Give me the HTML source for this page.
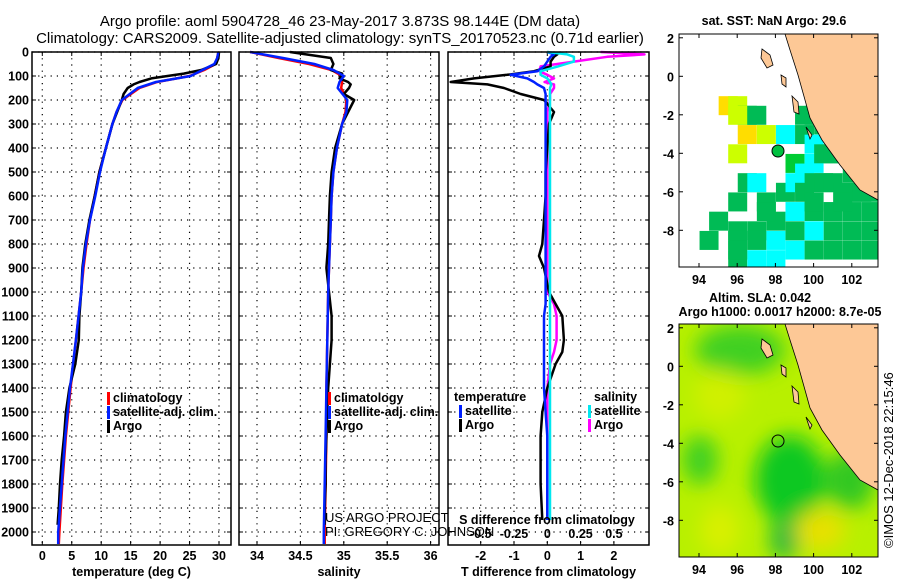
<!DOCTYPE html>
<html><head><meta charset="utf-8"><style>
body{margin:0;background:#fff}
svg{display:block;font-family:"Liberation Sans",sans-serif}
.t{font-weight:bold;font-size:12.5px}
</style></head><body>
<svg id="fig" width="900" height="580" viewBox="0 0 900 580">
<rect width="900" height="580" fill="#fff"/>
<text x="340" y="26" text-anchor="middle" font-size="15">Argo profile: aoml 5904728_46 23-May-2017 3.873S 98.144E (DM data)</text>
<text x="340" y="43" text-anchor="middle" font-size="15">Climatology: CARS2009. Satellite-adjusted climatology: synTS_20170523.nc (0.71d earlier)</text>
<g id="plots"></g>
<defs>
<clipPath id="c1"><rect x="679" y="34" width="199" height="233"/></clipPath>
<clipPath id="c2"><rect x="679" y="324" width="199" height="233"/></clipPath>
<filter id="blur"><feGaussianBlur stdDeviation="10"/></filter>
</defs>
<g>
<text x="774" y="25" text-anchor="middle" class="t">sat. SST: NaN Argo: 29.6</text>
<g clip-path="url(#c1)" id="sstcells"></g>
<g clip-path="url(#c1)"><path d="M785,34 L878,34 L878,200 L860,190 L840,165 L822,140 L810,118 L805,100 L798,75 L790,50 Z" fill="#fdc896" stroke="#000" stroke-width="0.8"/>
<path d="M762,49 l8,6 l3,10 l-6,3 l-6,-10 z M781,75 l5,3 l0,9 l-4,-3 z M792,96 l6,6 l1,12 l-5,-2 z M806,127 l6,8 l-2,4 z" fill="#fdc896" stroke="#000" stroke-width="0.8"/>
<circle cx="778" cy="151" r="6" fill="#00c040" stroke="#000"/></g>
<rect x="679" y="34" width="199" height="233" fill="none" stroke="#000"/>
</g>
<g>
<text x="760" y="302" text-anchor="middle" class="t">Altim. SLA: 0.042</text>
<text x="780" y="316" text-anchor="middle" class="t">Argo h1000: 0.0017 h2000: 8.7e-05</text>
<g clip-path="url(#c2)">
<rect x="679" y="324" width="199" height="233" fill="#b8f000"/>
<g filter="url(#blur)">
<ellipse cx="740" cy="350" rx="45" ry="25" fill="#40d020"/>
<ellipse cx="790" cy="480" rx="35" ry="45" fill="#10c820"/>
<ellipse cx="700" cy="460" rx="18" ry="25" fill="#40d020"/>
<ellipse cx="850" cy="480" rx="25" ry="30" fill="#30c820"/>
<ellipse cx="785" cy="540" rx="15" ry="20" fill="#20b840"/>
<ellipse cx="720" cy="395" rx="25" ry="25" fill="#d0f000"/>
<ellipse cx="820" cy="530" rx="25" ry="20" fill="#e8e000"/>
<ellipse cx="720" cy="530" rx="20" ry="25" fill="#d8f000"/>
</g>
<path d="M785,324 L878,324 L878,490 L860,480 L840,455 L822,430 L810,408 L805,390 L798,365 L790,340 Z" fill="#fdc896" stroke="#000" stroke-width="0.8"/>
<path d="M762,339 l8,6 l3,10 l-6,3 l-6,-10 z M781,365 l5,3 l0,9 l-4,-3 z M792,386 l6,6 l1,12 l-5,-2 z M806,417 l6,8 l-2,4 z" fill="#fdc896" stroke="#000" stroke-width="0.8"/>
<circle cx="778" cy="441" r="6" fill="none" stroke="#000"/></g>
<rect x="679" y="324" width="199" height="233" fill="none" stroke="#000"/>
<text transform="translate(893,548) rotate(-90)" font-size="13">©IMOS 12-Dec-2018 22:15:46</text>
</g>
<g id="mapaxes"></g>
</svg>
<script>
const depthClim=[0,25,50,75,100,125,150,200,250,300,400,500,600,700,800,900,1000,1200,1400,1600,1800,2000,2050];
const tempClim=[29.9,29.7,29.4,27.5,25.0,19.5,16.5,13.6,12.6,11.9,10.8,9.7,8.9,8.1,7.5,7.0,6.6,5.7,4.8,4.0,3.4,2.9,2.8];
const tempSat=[29.9,29.7,29.2,27.2,25.2,19.3,16.2,13.5,12.6,11.9,10.8,9.8,9.0,8.1,7.4,6.9,6.6,5.7,4.7,3.9,3.3,2.7,2.7];
const depthArgo=[0,25,50,75,90,110,125,135,150,175,200,250,300,400,500,600,700,800,900,1000,1100,1200,1300,1400,1500,1600,1700,1800,1900,1970];
const tempArgo=[30.0,29.9,29.5,27.0,24.0,18.5,16.5,15.5,14.5,13.8,13.5,12.7,11.9,10.8,9.7,8.9,8.0,7.3,6.8,6.6,6.3,6.2,5.6,4.6,4.0,3.7,3.3,3.0,2.8,2.6];
const salClim=[33.92,34.25,34.6,34.86,34.98,34.98,34.97,35.03,35.02,34.98,34.92,34.88,34.86,34.85,34.84,34.83,34.82,34.81,34.8,34.8,34.79,34.78,34.78];
const salSat=[33.92,34.3,34.66,34.88,35.0,34.95,34.93,35.04,35.03,34.98,34.92,34.88,34.86,34.85,34.84,34.83,34.82,34.81,34.8,34.79,34.78,34.77,34.77];
const salArgo=[34.38,34.85,34.88,34.85,34.98,34.95,35.05,35.08,35.06,35.0,35.12,35.05,34.98,34.9,34.86,34.84,34.83,34.82,34.8,34.83,34.86,34.86,34.84,34.82,34.81,34.8,34.79,34.79,34.78,34.78];
const depthDiff=[0,10,20,40,60,80,95,110,125,135,150,175,200,250,300,400,500,600,700,800,850,900,1000,1050,1100,1200,1250,1300,1400,1500,1600,1800,1950];
const dTArgo=[0.0,0.3,0.2,0.1,0.1,-0.4,-1.2,-2.2,-2.9,-1.8,-1.3,-0.8,-0.1,0.2,0.05,0.0,-0.05,-0.05,-0.1,-0.15,-0.25,-0.1,0.05,0.25,0.45,0.5,0.45,0.25,0.0,-0.15,-0.2,-0.2,-0.15];
const dTSat=[0.0,0.2,0.1,0.0,-0.1,-0.3,-1.1,-0.6,-0.4,-0.3,-0.1,-0.05,-0.05,-0.05,-0.05,-0.05,-0.05,-0.05,-0.05,-0.05,-0.05,-0.05,-0.05,-0.05,-0.1,-0.1,-0.1,-0.1,-0.1,-0.05,0.0,0.0,0.0];
const dSArgo=[0.4,0.73,0.45,0.2,-0.05,-0.06,0.0,0.05,-0.02,0.05,0.05,0.02,0.02,0.0,0.0,0.0,0.0,0.0,0.0,0.0,0.0,0.0,0.0,0.05,0.07,0.07,0.05,0.02,0.0,0.0,0.0,0.0,0.0];
const dSSat=[0.0,0.15,0.2,0.2,0.08,-0.05,-0.05,0.0,0.02,0.03,0.02,0.02,0.02,0.02,0.02,0.02,0.02,0.02,0.02,0.02,0.02,0.02,0.02,0.02,0.02,0.02,0.02,0.02,0.02,0.02,0.02,0.02,0.02];
const depthTicks=[0,100,200,300,400,500,600,700,800,900,1000,1100,1200,1300,1400,1500,1600,1700,1800,1900,2000];
const tempTicks=[0,5,10,15,20,25,30];
const salTicks=[34,34.5,35,35.5,36];
const salTickLabels=["34","34.5","35","35.5","36"];
const dTTicks=[-2,-1,0,1,2];
const dSTicks=[-0.5,-0.25,0,0.25,0.5];
const dSTickLabels=["-0.5","-0.25","0","0.25","0.5"];
const lonTicks=[94,96,98,100,102];
const latTicks=[2,0,-2,-4,-6,-8];

const NS="http://www.w3.org/2000/svg";
const top0=52,bot=545;
const yD=d=>top0+d*0.24;
function mk(tag,at,par){const e=document.createElementNS(NS,tag);for(const k in at)e.setAttribute(k,at[k]);par.appendChild(e);return e;}
const G=document.getElementById('plots');
function txt(x,y,s,anchor,par,cls){const t=mk('text',{x:x,y:y,'text-anchor':anchor||'middle',class:cls||'t'},par);t.textContent=s;return t;}

function panel(name,x0,x1,xs,ticks,labels,title,showY){
  const g=mk('g',{},G);
  
  
  depthTicks.forEach(d=>{const y=yD(d);
    const l=mk('line',{x1:x0,x2:x1,y1:y,y2:y,stroke:'#000','stroke-dasharray':'1.2,5','stroke-width':1.2},g);
    
    
    mk('line',{x1:x0,x2:x0+4,y1:y,y2:y,stroke:'#000'},g);mk('line',{x1:x1-4,x2:x1,y1:y,y2:y,stroke:'#000'},g);
    if(showY){const t=txt(29,y+4.5,String(d),'end',g);
      
      }
  });
  ticks.forEach((v,i)=>{const x=xs(v);
    const l=mk('line',{x1:x,x2:x,y1:top0,y2:bot,stroke:'#000','stroke-dasharray':'1.2,5','stroke-width':1.2},g);
    
    
    mk('line',{x1:x,x2:x,y1:bot,y2:bot-4,stroke:'#000'},g);mk('line',{x1:x,x2:x,y1:top0,y2:top0+4,stroke:'#000'},g);
    const t=txt(x,560,labels[i],'middle',g);
    
    
  });
  const tt=txt((x0+x1)/2,576,title,'middle',g);
  
  
  return g;
}
function line(g,xs,vals,deps,col,w,name){
  const p=mk('polyline',{points:vals.map((v,i)=>xs(v).toFixed(1)+','+yD(deps[i]).toFixed(1)).join(' '),fill:'none',stroke:col,'stroke-width':w,'stroke-linejoin':'round'},g);
  
  
}
function frame(g,x0,x1){const r=mk('rect',{x:x0,y:top0,width:x1-x0,height:bot-top0,fill:'none',stroke:'#000','stroke-width':1.5},g);
  
  }
function legend(g,x,y,items){items.forEach((it,i)=>{
  const yy=y+i*14;
  const r=mk('rect',{x:x,y:yy-10,width:3,height:13,fill:it[1]},g);
  
  
  const t=txt(x+6,yy,it[0],'start',g);
  
  });}

const xT=v=>42.3+v*5.89;
let g1=panel('temperature-panel',32,231,xT,tempTicks,tempTicks.map(String),'temperature (deg C)',true);
line(g1,xT,tempClim,depthClim,'#f00',2.5,'temp-climatology-line');
line(g1,xT,tempArgo,depthArgo,'#000',2.5,'temp-argo-line');
line(g1,xT,tempSat,depthClim,'#0020ff',2.5,'temp-satellite-line');
frame(g1,32,231);
legend(g1,107,402,[['climatology','#f00'],['satellite-adj. clim.','#0020ff'],['Argo','#000']]);

const xS=v=>257+(v-34)*86.8;
let g2=panel('salinity-panel',239,439,xS,salTicks,salTickLabels,'salinity',false);
line(g2,xS,salClim,depthClim,'#f00',2.5,'sal-climatology-line');
line(g2,xS,salArgo,depthArgo,'#000',2.5,'sal-argo-line');
line(g2,xS,salSat,depthClim,'#0020ff',2.5,'sal-satellite-line');
frame(g2,239,439);
legend(g2,328,402,[['climatology','#f00'],['satellite-adj. clim.','#0020ff'],['Argo','#000']]);
let c1=txt(325,522,'US ARGO PROJECT','start',g2,'x');c1.setAttribute('font-size','13');


let c2=txt(325,536,'PI: GREGORY C. JOHNSON','start',g2,'x');c2.setAttribute('font-size','13');



const xDT=v=>547.3+v*33.3;
const xDS=v=>547.3+v*133.2;
let g3=panel('difference-panel',448,649,xDT,dTTicks,dTTicks.map(String),'T difference from climatology',false);
line(g3,xDS,dSArgo,depthDiff,'#ff00ff',2.5,'sal-diff-argo-line');
line(g3,xDT,dTArgo,depthDiff,'#000',2.5,'temp-diff-argo-line');
line(g3,xDT,dTSat,depthDiff,'#0020ff',2.5,'temp-diff-satellite-line');
line(g3,xDS,dSSat,depthDiff,'#00e8f0',2.5,'sal-diff-satellite-line');
frame(g3,448,649);
let lh1=txt(454,401,'temperature','start',g3);


let lh2=txt(594,401,'salinity','start',g3);


legend(g3,459,415,[['satellite','#0020ff'],['Argo','#000']]);
legend(g3,588,415,[['satellite','#00e8f0'],['Argo','#ff00ff']]);
let st=txt(547,524,'S difference from climatology','middle',g3);


dSTicks.forEach((v,i)=>{const t=txt(xDS(v),538,dSTickLabels[i],'middle',g3);
  
  });

const MA=document.getElementById('mapaxes');
const lonX=v=>699+(v-94)*19.1;
[[34,76.3,267],[324,366.3,557]].forEach((m,mi)=>{
  const latY=v=>m[1]-v*19.25;
  lonTicks.forEach(v=>{const t=txt(lonX(v),m[2]+17,String(v),'middle',MA);
    
    
    mk('line',{x1:lonX(v),x2:lonX(v),y1:m[2],y2:m[2]-4,stroke:'#000'},MA);mk('line',{x1:lonX(v),x2:lonX(v),y1:m[0],y2:m[0]+4,stroke:'#000'},MA);});
  latTicks.forEach(v=>{const t=txt(674,latY(v)+5,String(v),'end',MA);
    
    
    mk('line',{x1:679,x2:683,y1:latY(v),y2:latY(v),stroke:'#000'},MA);mk('line',{x1:874,x2:878,y1:latY(v),y2:latY(v),stroke:'#000'},MA);});
});
const sstCellsLon=[95.5,96,96.5,97,96,96.5,97.5,96,98.5,99.5,100,100.5,99.5,100,99,99.5,100,100.5,101,101.5,102,102.5,103,96.5,97,96,97.5,98.5,99,99.5,100,100.5,101,101.5,102,102.5,103,95,94.5,96,97,98,99,100,101,102,103,96,97,98,99,100,101,102,103,96,97,98,99,100,101,102,103,96,97.5,100,101.5];
const sstCellsLat=[-1.5,-1.5,-2,-2,-2,-3,-3,-4,-3,-2,-2,-2.5,-3,-3.5,-4.5,-5,-4.5,-4,-4,-4,-5,-5,-5,-5.5,-5.5,-6.5,-6.5,-6,-5.5,-6,-5.5,-5.5,-5.5,-6,-6,-6,-6,-7.5,-8.5,-8,-8,-7.5,-7,-7,-7,-7,-7,-8.5,-8.5,-8.5,-8,-8,-8,-8,-8,-9.5,-9.5,-9.5,-9,-9,-9,-9,-9,-9,-7,-6.5,-6.5];
const sstCellsVal=[5,4,3,2,4,5,4,4,1,2,2,2,2,1,3,1,1,2,2,2,2,2,2,2,1,2,2,2,1,2,2,2,2,2,2,2,2,2,2,2,2,2,1,2,2,2,2,2,2,1,2,1,2,2,2,2,1,1,1,2,2,2,2,2,2,2,2];
const sstColors=['#0000ff','#00ffff','#00bb55','#00cc33','#ccff00','#ffdd00'];
const SC=document.getElementById('sstcells');
sstCellsLon.forEach((lo,i)=>{
  const r=mk('rect',{x:lonX(lo)-9,y:(76.3-sstCellsLat[i]*19.25)-9,width:19,height:19,fill:sstColors[sstCellsVal[i]]},SC);
  
  
});
</script>
</body></html>
